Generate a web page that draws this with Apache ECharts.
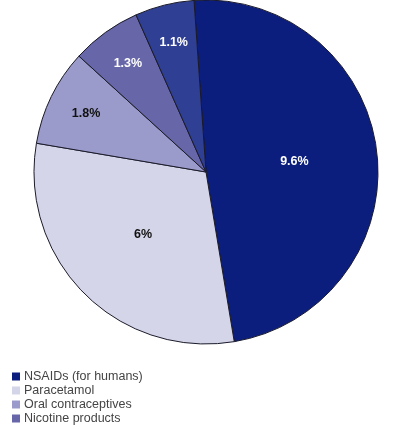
<!DOCTYPE html>
<html>
<head>
<meta charset="utf-8">
<script src="https://cdn.jsdelivr.net/npm/echarts@6/dist/echarts.min.js"></script>
<style>
  html, body { margin: 0; padding: 0; background: #fff; }
  #main { width: 412px; height: 429px; }
</style>
</head>
<body>
<div id="main"></div>
<script>
// slice data, clockwise from the top
var names = ['NSAIDs (for humans)', 'Paracetamol', 'Oral contraceptives', 'Nicotine products', 'Other'];
var values = [9.6, 6, 1.8, 1.3, 1.1];
var labels = ['9.6%', '6%', '1.8%', '1.3%', '1.1%'];
var legendNames = ['NSAIDs (for humans)', 'Paracetamol', 'Oral contraceptives', 'Nicotine products'];

var colors = ['#0b1e7e', '#d5d5ea', '#9a9acb', '#6666a9', '#2f3f94'];
var labelColors = ['#fff', '#111', '#111', '#fff', '#fff'];

var cx = 206, cy = 172;

var chartDom = document.getElementById('main');
var myChart = echarts.init(chartDom, null, { renderer: 'canvas' });

var option = {
  animation: false,
  legend: {
    data: legendNames,
    orient: 'vertical',
    left: 12,
    top: 370,
    height: 59,
    padding: 0,
    itemWidth: 8,
    itemHeight: 8,
    itemGap: 1,
    icon: 'rect',
    itemStyle: { borderWidth: 0 },
    textStyle: {
      fontFamily: 'Liberation Sans, Arial, sans-serif',
      fontSize: 12.5,
      lineHeight: 12,
      color: '#444',
      padding: [0, 0, 0, -1]
    }
  },
  series: [
    {
      type: 'pie',
      center: [cx, cy],
      radius: 172,
      startAngle: 94,
      clockwise: true,
      silent: true,
      itemStyle: {
        borderColor: '#1a1a2a',
        borderWidth: 1
      },
      label: {
        position: 'inside',
        fontFamily: 'Liberation Sans, Arial, sans-serif',
        fontWeight: 'bold',
        fontSize: 12.5
      },
      labelLayout: function (params) {
        // small slices: push the label further out along its radius
        if (params.dataIndex < 2) return {};
        var r = params.labelRect;
        var mx = r.x + r.width / 2 - cx;
        var my = r.y + r.height / 2 - cy;
        return { dx: mx * 0.5, dy: my * 0.5 };
      },
      data: values.map(function (v, i) {
        return {
          name: names[i],
          value: v,
          itemStyle: { color: colors[i] },
          label: {
            formatter: labels[i],
            color: labelColors[i]
          }
        };
      })
    }
  ]
};

option && myChart.setOption(option);
</script>
</body>
</html>
